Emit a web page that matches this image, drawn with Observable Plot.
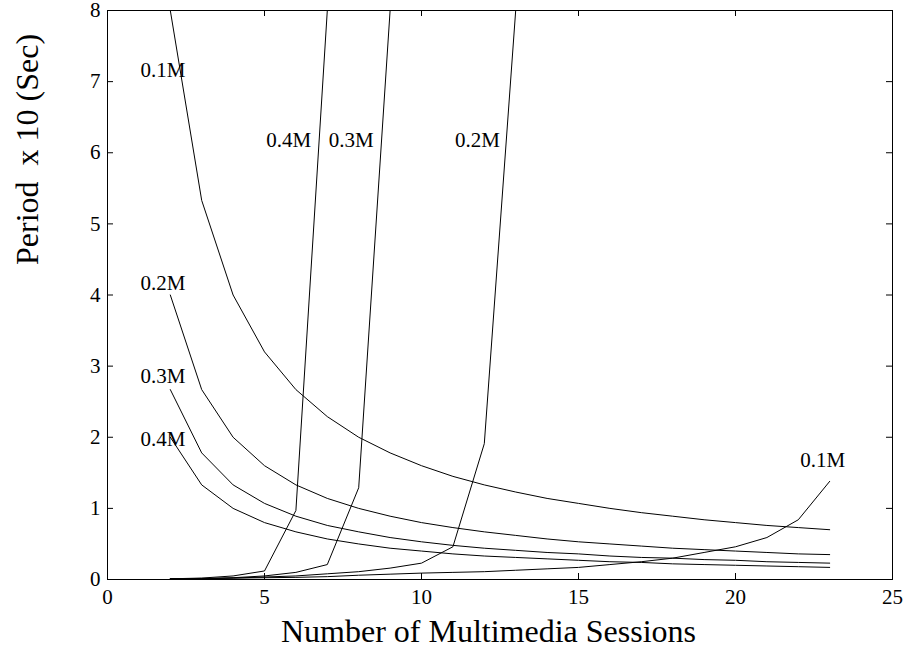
<!DOCTYPE html>
<html>
<head>
<meta charset="utf-8">
<script src="https://cdn.jsdelivr.net/npm/d3@7"></script>
<script src="https://cdn.jsdelivr.net/npm/@observablehq/plot@0.6"></script>
<style>
  html, body { margin: 0; padding: 0; background: #fff; }
  svg text { white-space: pre; }
</style>
</head>
<body>
<div id="chart"></div>
<script>
// ---- data ----
const sessions = [2,3,4,5,6,7,8,9,10,11,12,13,14,15,16,17,18,19,20,21,22,23];

// decreasing curves (period vs. sessions) per bandwidth
const dec01 = [8,5.33,4,3.2,2.67,2.29,2,1.78,1.6,1.45,1.33,1.23,1.14,1.07,1,0.94,0.89,0.84,0.8,0.76,0.73,0.7];
const dec02 = [4,2.67,2,1.6,1.33,1.14,1,0.89,0.8,0.73,0.67,0.62,0.57,0.53,0.5,0.47,0.44,0.42,0.4,0.38,0.36,0.35];
const dec03 = [2.67,1.78,1.33,1.07,0.89,0.76,0.67,0.59,0.53,0.48,0.44,0.41,0.38,0.36,0.33,0.31,0.3,0.28,0.27,0.25,0.24,0.23];
const dec04 = [2,1.33,1,0.8,0.67,0.57,0.5,0.44,0.4,0.36,0.33,0.31,0.29,0.27,0.25,0.24,0.22,0.21,0.2,0.19,0.18,0.17];

// increasing curves (capped at the top of the chart)
const inc04 = [0.01,0.02,0.05,0.12,0.97,8,8,8,8,8,8,8,8,8,8,8,8,8,8,8,8,8];
const inc03 = [0.01,0.01,0.025,0.05,0.1,0.21,1.29,8,8,8,8,8,8,8,8,8,8,8,8,8,8,8];
const inc02 = [0.01,0.01,0.02,0.035,0.05,0.08,0.11,0.16,0.23,0.46,1.91,8,8,8,8,8,8,8,8,8,8,8];
const inc01 = [0.01,0.015,0.02,0.025,0.03,0.04,0.06,0.075,0.09,0.1,0.11,0.13,0.15,0.17,0.21,0.25,0.3,0.38,0.46,0.59,0.84,1.38];

const xTicks = [0,5,10,15,20,25];
const yTicks = [0,1,2,3,4,5,6,7,8];

const labelText = ["0.1M","0.2M","0.3M","0.4M","0.4M","0.3M","0.2M","0.1M"];
const labelX    = [1.77, 1.77, 1.77, 1.77, 5.77, 7.76, 11.78, 22.78];
const labelY    = [7.16, 4.16, 2.86, 1.97, 6.17, 6.17, 6.17, 1.67];

const xTitle = "Number of Multimedia Sessions";
const yTitle = "Period  x 10 (Sec)";

// ---- build tables ----
const seriesList = [
  ["dec 0.1M", dec01], ["dec 0.2M", dec02], ["dec 0.3M", dec03], ["dec 0.4M", dec04],
  ["inc 0.1M", inc01], ["inc 0.2M", inc02], ["inc 0.3M", inc03], ["inc 0.4M", inc04]
];
const rows = seriesList.flatMap(([name, vals]) => vals.map((v, i) => ({series: name, x: sessions[i], y: v})));
const labels = labelText.map((t, i) => ({text: t, x: labelX[i], y: labelY[i]}));

// ---- layout ----
const W = 904, H = 657;
const mL = 107, mR = 12, mT = 10, mB = 78;
const plotW = W - mL - mR, plotH = H - mT - mB;
const tickLen = 6;
const font = '"Liberation Serif", "Times New Roman", Times, serif';

const chart = Plot.plot({
  width: W, height: H,
  marginLeft: mL, marginRight: mR, marginTop: mT, marginBottom: mB,
  style: {fontFamily: font, fontSize: "21px", color: "#000", background: "#fff", overflow: "visible"},
  x: {domain: [0, 25]},
  y: {domain: [0, 8]},
  marks: [
    Plot.axisX(xTicks, {anchor: "bottom", tickSize: 0, tickPadding: 10, label: null, fontSize: 21, tickFormat: d => String(d)}),
    Plot.axisY(yTicks, {anchor: "left", tickSize: 0, tickPadding: 7, label: null, fontSize: 21, tickFormat: d => String(d)}),
    // inward ticks on all four sides
    Plot.tickX(xTicks, {x: d => d, insetTop: plotH - tickLen, stroke: "#000"}),
    Plot.tickX(xTicks, {x: d => d, insetBottom: plotH - tickLen, stroke: "#000"}),
    Plot.tickY(yTicks, {y: d => d, insetRight: plotW - tickLen, stroke: "#000"}),
    Plot.tickY(yTicks, {y: d => d, insetLeft: plotW - tickLen, stroke: "#000"}),
    Plot.line(rows, {x: "x", y: "y", z: "series", stroke: "#000", strokeWidth: 1}),
    Plot.frame({stroke: "#000", strokeWidth: 1}),
    Plot.text(labels, {x: "x", y: "y", text: "text", fontSize: 21, fill: "#000"}),
    Plot.text([xTitle], {text: d => d, frameAnchor: "bottom", dy: 62.5, dx: -11.5, fontSize: 32, fill: "#000"}),
    Plot.text([yTitle], {text: d => d, frameAnchor: "left", rotate: -90, dx: -80, dy: -30, fontSize: 32, fill: "#000"})
  ]
});
document.getElementById("chart").appendChild(chart);
</script>
</body>
</html>
